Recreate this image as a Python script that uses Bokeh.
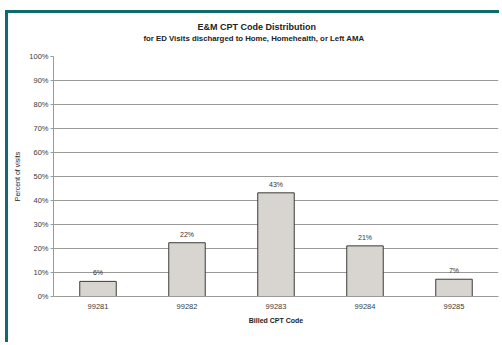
from bokeh.plotting import figure
from bokeh.models import ColumnDataSource, Title, PrintfTickFormatter, FixedTicker, Range1d
from bokeh.embed import file_html
from bokeh.resources import INLINE

codes = ["99281", "99282", "99283", "99284", "99285"]
percents = [6.3, 22.4, 43.2, 21.1, 7.2]
y_ticks = [0, 10, 20, 30, 40, 50, 60, 70, 80, 90, 100]
title_text = "E&M CPT Code Distribution"
subtitle_text = "for ED Visits discharged to Home, Homehealth, or Left AMA"

FONT = "Liberation Sans"
TEAL = "#0f6b6b"

src = ColumnDataSource(dict(code=codes, pct=percents,
                            lbl=[f"{round(v)}%" for v in percents]))

p = figure(x_range=codes, y_range=Range1d(0, 100), width=494, height=332,
           output_backend="svg", toolbar_location=None, title=None,
           min_border_left=45, min_border_top=43, min_border_right=4, min_border_bottom=49)
p.styles = {"margin-left": "5px", "margin-top": "10px",
            "border-left": f"3px solid {TEAL}", "border-top": f"3px solid {TEAL}"}
p.background_fill_color = "white"
p.border_fill_color = "white"
p.outline_line_color = None

p.vbar(x="code", top="pct", width=0.41, source=src,
       fill_color="#d8d5d0", line_color="#3a3a3a", line_width=1)

p.text(x="code", y="pct", text="lbl", source=src, y_offset=-5,
       text_align="center", text_baseline="bottom",
       text_font={"value": FONT}, text_font_size="7px", text_color="#333333")

p.yaxis.ticker = FixedTicker(ticks=y_ticks)
p.yaxis.formatter = PrintfTickFormatter(format="%d%%")
p.ygrid.ticker = FixedTicker(ticks=y_ticks)
p.ygrid.grid_line_color = "#9a9a9a"
p.ygrid.grid_line_width = 1
p.xgrid.grid_line_color = None

for ax in (p.xaxis[0], p.yaxis[0]):
    ax.axis_line_color = "#9a9a9a"
    ax.major_tick_line_color = "#9a9a9a"
    ax.minor_tick_line_color = None
    ax.major_label_text_font = FONT
    ax.major_label_text_font_size = "7.5px"
    ax.major_label_text_color = "#3a3a3a"
    ax.axis_label_text_font = FONT
    ax.axis_label_text_font_size = "7px"
    ax.axis_label_text_color = "#222222"
    ax.axis_label_text_font_style = "bold"

p.yaxis.major_tick_out = 3
p.yaxis.major_tick_in = 0
p.yaxis.major_label_standoff = 2
p.yaxis.axis_label = "Percent of visits"
p.yaxis.axis_label_standoff = 5
p.yaxis.axis_label_text_font_style = "normal"

p.xaxis.major_tick_out = 0
p.xaxis.major_tick_in = 0
p.xaxis.major_label_standoff = 7
p.xaxis.axis_label = "Billed CPT Code"
p.xaxis.axis_label_standoff = 5

# spacer between the frame and the subtitle
p.add_layout(Title(text=" ", text_font_size="1px", standoff=11), "above")
p.add_layout(Title(text=subtitle_text, align="left", offset=90, standoff=0,
                   text_font=FONT, text_font_size="7.8px", text_font_style="bold",
                   text_color="#222222"), "above")
p.add_layout(Title(text=title_text, align="left", offset=144, standoff=0,
                   text_font=FONT, text_font_size="9px", text_font_style="bold",
                   text_color="#222222"), "above")

open("out.html", "w").write(file_html(p, INLINE))
